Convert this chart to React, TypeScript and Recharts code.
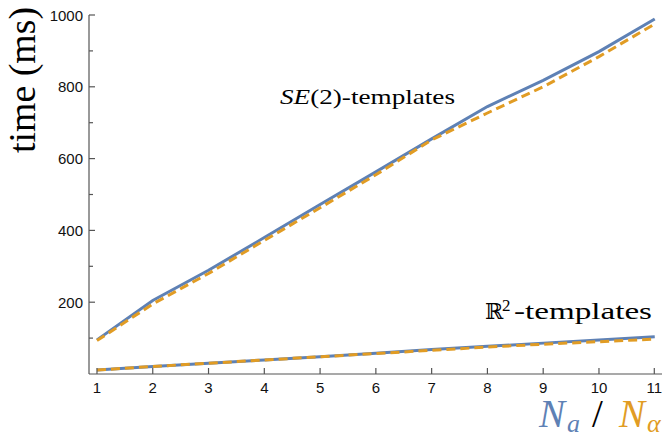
import React from "react";
import { LineChart, Line, XAxis, YAxis } from "recharts";

const nValues = [1, 2, 3, 4, 5, 6, 7, 8, 9, 10, 11];
const se2Na = [95, 205, 289, 380, 472, 563, 655, 745, 818, 898, 989];
const se2Nalpha = [93, 195, 280, 372, 463, 555, 652, 727, 800, 884, 975];
const r2Na = [11, 21, 30, 39, 48, 58, 68, 77, 86, 95, 104];
const r2Nalpha = [11, 21, 30, 39, 48, 57, 66, 75, 83, 90, 97];
const xTicks = [1, 2, 3, 4, 5, 6, 7, 8, 9, 10, 11];
const yTicks = [50, 100, 150, 200, 250, 300, 350, 400, 450, 500, 550, 600, 650, 700, 750, 800, 850, 900, 950, 1000];

const BLUE = "#5E81B5";
const ORANGE = "#E19C24";
const AXIS = "#555555";

const se2Rows = nValues.map((n, i) => ({ n, a: se2Na[i], alpha: se2Nalpha[i] }));
const r2Rows = nValues.map((n, i) => ({ n, a: r2Na[i], alpha: r2Nalpha[i] }));

const XTick = (props: any) => {
  const { x, y, payload } = props;
  return (
    <g>
      <line x1={x} x2={x} y1={y} y2={y - 6} stroke={AXIS} strokeWidth={1.2} />
      <text x={x} y={y + 19} textAnchor="middle" fontFamily="Liberation Sans, Arial, sans-serif" fontSize={15} fill="#111">
        {payload.value}
      </text>
    </g>
  );
};

const YTick = (props: any) => {
  const { x, y, payload } = props;
  const v = payload.value;
  const major = v % 200 === 0;
  return (
    <g>
      <line x1={x} x2={x + (major ? 6 : 4)} y1={y} y2={y} stroke={AXIS} strokeWidth={1.2} />
      {major && (
        <text x={x - 6} y={y + 5.5} textAnchor="end" fontFamily="Liberation Sans, Arial, sans-serif" fontSize={15} fill="#111">
          {v}
        </text>
      )}
    </g>
  );
};

export default function App() {
  const serif = "Liberation Serif, Times New Roman, serif";
  return (
    <div style={{ position: "absolute", left: 0, top: 0, width: 662, height: 436, background: "#fff" }}>
      <LineChart
        width={662}
        height={436}
        margin={{ top: 15, right: 0, bottom: 0, left: 0 }}
      >
        <XAxis
          type="number"
          dataKey="n"
          domain={[0.857, 11.13]}
          ticks={xTicks}
          allowDataOverflow
          tickSize={0}
          tickMargin={0}
          tick={<XTick />}
          axisLine={{ stroke: AXIS, strokeWidth: 1.2 }}
          height={62}
          allowDuplicatedCategory={false}
        />
        <YAxis
          type="number"
          domain={[0, 1000]}
          ticks={yTicks}
          allowDataOverflow
          tickSize={0}
          tickMargin={0}
          tick={<YTick />}
          axisLine={{ stroke: AXIS, strokeWidth: 1.2 }}
          width={89}
        />
        <Line data={se2Rows} dataKey="a" type="linear" stroke={BLUE} strokeWidth={3} dot={false} isAnimationActive={false} />
        <Line data={se2Rows} dataKey="alpha" type="linear" stroke={ORANGE} strokeWidth={3} strokeDasharray="9 5" dot={false} isAnimationActive={false} />
        <Line data={r2Rows} dataKey="a" type="linear" stroke={BLUE} strokeWidth={3} dot={false} isAnimationActive={false} />
        <Line data={r2Rows} dataKey="alpha" type="linear" stroke={ORANGE} strokeWidth={3} strokeDasharray="9 5" dot={false} isAnimationActive={false} />
      </LineChart>
      <svg width={662} height={436} style={{ position: "absolute", left: 0, top: 0, pointerEvents: "none" }}>
        <text
          transform="translate(35,80) rotate(-90)"
          textAnchor="middle"
          fontFamily={serif}
          fontSize={38}
          fill="#000"
          textLength={146}
          lengthAdjust="spacingAndGlyphs"
        >
          time (ms)
        </text>
        <text x={280} y={104} fontFamily={serif} fontSize={21} fill="#000" textLength={175} lengthAdjust="spacingAndGlyphs">
          <tspan fontStyle="italic">SE</tspan>
          <tspan>(2)-templates</tspan>
        </text>
        <text x={485} y={319} fontFamily="DejaVu Serif, serif" fontSize={22} fill="#000">ℝ</text>
        <text x={502} y={311} fontFamily={serif} fontSize={17} fill="#000">2</text>
        <text x={514} y={319} fontFamily={serif} fontSize={23} fill="#000" textLength={138} lengthAdjust="spacingAndGlyphs">-templates</text>
        <text x={539} y={427} fontFamily={serif} fontSize={39} fontStyle="italic" fill={BLUE}>N</text>
        <text x={567} y={432} fontFamily={serif} fontSize={26} fontStyle="italic" fill={BLUE}>a</text>
        <text x={592} y={427} fontFamily={serif} fontSize={39} fill="#000">/</text>
        <text x={619} y={427} fontFamily={serif} fontSize={39} fontStyle="italic" fill={ORANGE}>N</text>
        <text x={647} y={432} fontFamily={serif} fontSize={26} fontStyle="italic" fill={ORANGE}>α</text>
      </svg>
    </div>
  );
}
